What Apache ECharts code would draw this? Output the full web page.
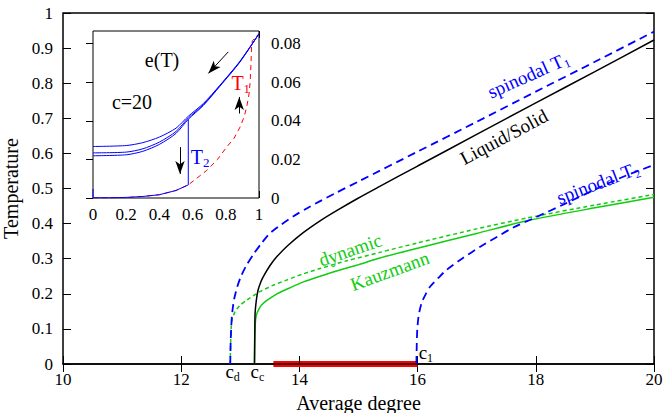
<!DOCTYPE html>
<html><head><meta charset="utf-8">
<script src="https://cdn.jsdelivr.net/npm/echarts@6/dist/echarts.min.js"></script>
<style>html,body{margin:0;padding:0;background:#fff}#c{width:664px;height:413px}</style>
</head><body><div id="c"></div>
<script>
const FONT = 'Liberation Serif';
const BLUE = '#0000ff', GREEN = '#11cc11', RED = '#ff0000', BLACK = '#000000';

// ---- main panel data: [average degree, temperature] ----
const spinodalT1 = [[12.83,0],[12.835,0.05],[12.845,0.1],[12.86,0.14],[12.89,0.18],[12.94,0.215],[13.0,0.245],[13.1,0.28],[13.22,0.312],[13.35,0.342],[13.5,0.372],[13.7,0.398],[13.9,0.421],[14.1,0.441],[14.35,0.464],[14.6,0.486],[15,0.52],[16,0.605],[17,0.69],[18,0.776],[19,0.861],[20,0.947]];
const liquidSolid = [[13.24,0],[13.242,0.05],[13.246,0.1],[13.25,0.144],[13.27,0.18],[13.3,0.21],[13.35,0.235],[13.39,0.249],[13.5,0.28],[13.62,0.306],[13.8,0.337],[14.07,0.375],[14.35,0.408],[14.63,0.437],[15,0.473],[15.36,0.506],[16,0.564],[17,0.654],[18,0.744],[19,0.833],[20,0.923]];
const dynamicT = [[12.83,0],[12.835,0.05],[12.845,0.1],[12.86,0.125],[12.9,0.145],[12.94,0.156],[13.0,0.168],[13.11,0.182],[13.33,0.206],[13.55,0.224],[13.78,0.239],[14.05,0.256],[14.35,0.272],[14.8,0.294],[15.36,0.318],[16,0.345],[17,0.385],[17.85,0.416],[19,0.453],[20,0.483]];
const kauzmannT = [[13.24,0],[13.245,0.05],[13.25,0.1],[13.26,0.128],[13.28,0.144],[13.32,0.158],[13.36,0.168],[13.45,0.181],[13.62,0.2],[13.85,0.218],[14.07,0.234],[14.35,0.25],[14.63,0.265],[15,0.283],[15.36,0.302],[16,0.33],[17,0.372],[17.85,0.408],[19,0.445],[20,0.475]];
const spinodalT2 = [[15.98,0],[15.985,0.05],[15.995,0.1],[16.02,0.14],[16.07,0.175],[16.14,0.2],[16.21,0.22],[16.35,0.245],[16.49,0.268],[16.75,0.3],[17.06,0.334],[17.35,0.363],[17.62,0.389],[18,0.418],[18.5,0.457],[19,0.497],[19.5,0.535],[20,0.567]];
const hardPhase = [[13.56,0],[16.0,0]];

// ---- inset data: [T, e(T)] at c=20 ----
const eCoolA = [[0,0.0267],[0.2,0.0272],[0.3,0.0287],[0.4,0.0316],[0.5,0.0362],[0.574,0.0424],[0.665,0.049],[0.765,0.0585],[0.886,0.071],[1,0.0852]];
const eCoolB = [[0,0.0234],[0.2,0.0238],[0.3,0.0255],[0.4,0.029],[0.5,0.0345],[0.574,0.0415],[0.665,0.0484],[0.765,0.0583],[0.886,0.0708],[1,0.0852]];
const eCoolC = [[0,0.0219],[0.2,0.0224],[0.3,0.0242],[0.4,0.0278],[0.5,0.0335],[0.574,0.0408],[0.665,0.048],[0.765,0.058],[0.886,0.0706],[1,0.0852]];
const eLowBranch = [[0,0.0047],[0,0.0001],[0.1,0.0001],[0.2,0.0003],[0.3,0.0008],[0.4,0.0017],[0.5,0.0039],[0.574,0.0068],[0.574,0.0408]];
const eHeat = [[0,0],[0.2,0.0002],[0.3,0.0008],[0.4,0.0017],[0.5,0.0039],[0.574,0.0068],[0.684,0.0142],[0.75,0.02],[0.805,0.0264],[0.85,0.031],[0.886,0.0368],[0.91,0.042],[0.926,0.0472],[0.94,0.054],[0.946,0.0594],[0.952,0.07],[0.955,0.0784],[0.96,0.0815],[1,0.0852]];
const insetArrows = [[[0.815,0.0758],[0.695,0.0646]],[[0.524,0.0264],[0.524,0.0125]],[[0.881,0.0438],[0.881,0.0524]]];

// ---- text labels ----
const mainLabels = [
  {t:'{a|spinodal T}{s|1}', c:[17.87,0.823], r:24, col:BLUE},
  {t:'{a|Liquid/Solid}', c:[17.46,0.647], r:28, col:BLACK},
  {t:'{a|spinodal T}{s|2}', c:[19.05,0.516], r:21, col:BLUE},
  {t:'{a|dynamic}', c:[14.86,0.325], r:19, col:GREEN},
  {t:'{a|Kauzmann}', c:[15.53,0.265], r:20, col:GREEN},
  {t:'{a|c}{s|d}', c:[12.87,-0.022], r:0, col:BLACK},
  {t:'{a|c}{s|c}', c:[13.29,-0.022], r:0, col:BLACK},
  {t:'{a|c}{s|1}', c:[16.14,0.034], r:0, col:BLACK}
];
const insetLabels = [
  {t:'{a|e(T)}', c:[0.416,0.0715], col:BLACK},
  {t:'{a|c=20}', c:[0.235,0.0496], col:BLACK},
  {t:'{a|T}{s|1}', c:[0.89,0.0595], col:RED},
  {t:'{a|T}{s|2}', c:[0.645,0.0215], col:BLUE}
];

const chart = echarts.init(document.getElementById('c'), null, {renderer:'svg'});
const tickLbl = {color:BLACK, fontFamily:FONT, fontSize:17};
function fmt(d){ return v => String(+v.toFixed(d)); }
function line(data, color, width, type, xi, yi, extra){
  return Object.assign({type:'line', data, xAxisIndex:xi, yAxisIndex:yi, showSymbol:false, symbol:'none',
    lineStyle:{color, width, type}, itemStyle:{color}, animation:false, silent:true}, extra||{});
}
const SM = {smooth:0.25};
const option = {
  backgroundColor:'#fff',
  animation:false,
  textStyle:{fontFamily:FONT},
  grid:[
    {left:63, right:10, top:13, bottom:49, show:true, borderColor:BLACK, borderWidth:1.5, outerBoundsMode:'none'},
    {left:93, top:31, width:166, height:167, show:true, backgroundColor:'#fff', borderColor:BLACK, borderWidth:1, outerBoundsMode:'none', z:1}
  ],
  xAxis:[
    {gridIndex:0, type:'value', min:10, max:20, interval:2, z:3,
     axisLine:{show:true, onZero:false, lineStyle:{color:BLACK, width:1.5}},
     axisTick:{show:true, inside:true, length:8, lineStyle:{color:BLACK}},
     axisLabel:Object.assign({margin:7}, tickLbl), splitLine:{show:false},
     name:'Average degree', nameLocation:'middle', nameGap:22,
     nameTextStyle:{color:BLACK, fontFamily:FONT, fontSize:20}},
    {gridIndex:0, type:'value', position:'top', min:10, max:20, interval:2,
     axisLine:{show:false}, axisTick:{show:true, inside:true, length:8, lineStyle:{color:BLACK}},
     axisLabel:{show:false}, splitLine:{show:false}},
    {gridIndex:1, type:'value', min:0, max:1, interval:0.2,
     axisLine:{show:false}, axisTick:{show:true, inside:true, length:7, lineStyle:{color:BLACK}},
     axisLabel:Object.assign({margin:8, formatter:fmt(1)}, tickLbl), splitLine:{show:false}},
    {gridIndex:1, type:'value', position:'top', min:0, max:1, interval:0.2,
     axisLine:{show:false}, axisTick:{show:true, inside:true, length:7, lineStyle:{color:BLACK}},
     axisLabel:{show:false}, splitLine:{show:false}}
  ],
  yAxis:[
    {gridIndex:0, type:'value', min:0, max:1, interval:0.1,
     axisLine:{show:false}, axisTick:{show:true, inside:true, length:8, lineStyle:{color:BLACK}},
     axisLabel:Object.assign({margin:10, formatter:fmt(1)}, tickLbl), splitLine:{show:false},
     name:'Temperature', nameLocation:'middle', nameRotate:90, nameGap:30,
     nameTextStyle:{color:BLACK, fontFamily:FONT, fontSize:20}},
    {gridIndex:0, type:'value', position:'right', min:0, max:1, interval:0.1,
     axisLine:{show:false}, axisTick:{show:true, inside:true, length:8, lineStyle:{color:BLACK}},
     axisLabel:{show:false}, splitLine:{show:false}},
    {gridIndex:1, type:'value', position:'right', min:0, max:0.0866, interval:0.02,
     axisLine:{show:false}, axisTick:{show:true, inside:true, length:7, lineStyle:{color:BLACK}},
     axisLabel:Object.assign({margin:12, formatter:fmt(2), showMaxLabel:false}, tickLbl), splitLine:{show:false}}
  ],
  series:[
    line(hardPhase, RED, 6, 'solid', 0, 0, {z:2}),
    line(dynamicT, GREEN, 1.5, [4,3], 0, 0, SM),
    line(kauzmannT, GREEN, 1.5, 'solid', 0, 0, SM),
    line(liquidSolid, BLACK, 1.5, 'solid', 0, 0, SM),
    line(spinodalT1, BLUE, 1.8, [8,5], 0, 0, SM),
    line(spinodalT2, BLUE, 1.8, [8,5], 0, 0, SM),
    line(eHeat, RED, 1, [5,4], 2, 2, {z:5}),
    line(eCoolA, BLUE, 1, 'solid', 2, 2, {z:5, smooth:0.25}),
    line(eCoolB, BLUE, 1, 'solid', 2, 2, {z:5, smooth:0.25}),
    line(eCoolC, BLUE, 1, 'solid', 2, 2, {z:5, smooth:0.25}),
    line(eLowBranch, BLUE, 1, 'solid', 2, 2, {z:5,
      markLine:{silent:true, animation:false, symbolSize:[7,13], label:{show:false},
        lineStyle:{color:BLACK, width:1, type:'solid'},
        data: insetArrows.map(a => [{coord:a[0], symbol:'none'}, {coord:a[1], symbol:'arrow'}])}})
  ]
};
chart.setOption(option);

function richFor(col, size){
  return {
    a:{fill:col, fontFamily:FONT, fontSize:size, lineHeight:size+4, verticalAlign:'middle'},
    s:{fill:col, fontFamily:FONT, fontSize:Math.round(size*0.65), lineHeight:Math.round(size*0.65), verticalAlign:'bottom'}
  };
}
const graphics = [];
mainLabels.forEach(l => {
  const p = chart.convertToPixel({gridIndex:0}, l.c);
  graphics.push({type:'text', x:p[0], y:p[1], rotation:l.r*Math.PI/180, z:10,
    style:{text:l.t, rich:richFor(l.col, 19), align:'center', verticalAlign:'middle'}});
});
insetLabels.forEach(l => {
  const p = chart.convertToPixel({xAxisIndex:2, yAxisIndex:2}, l.c);
  graphics.push({type:'text', x:p[0], y:p[1], z:10,
    style:{text:l.t, rich:richFor(l.col, 20), align:'center', verticalAlign:'middle'}});
});
chart.setOption({graphic:graphics});
</script></body></html>
